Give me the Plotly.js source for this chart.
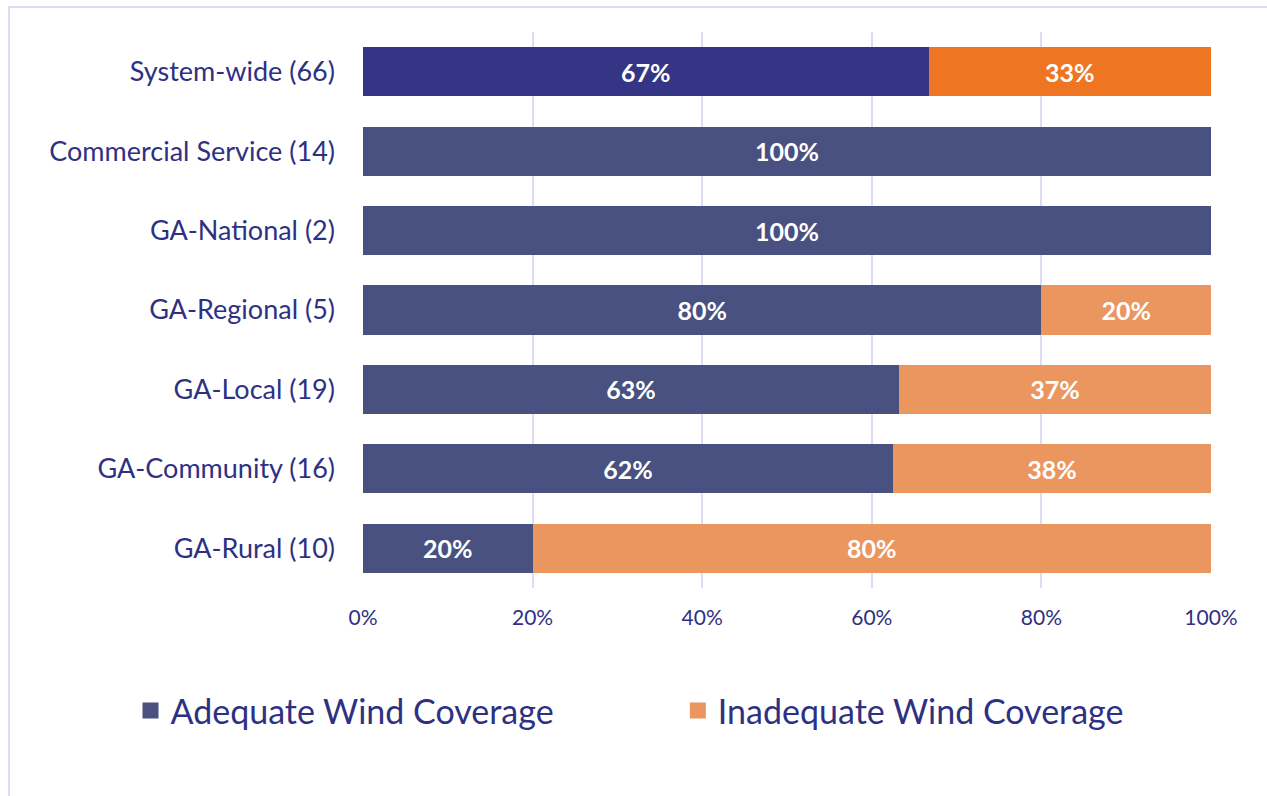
<!DOCTYPE html>
<html>
<head>
<meta charset="utf-8">
<script src="https://cdn.plot.ly/plotly-3.0.1.min.js"></script>
<style>
  html, body { margin: 0; padding: 0; background: #ffffff; }
  #frame { position: absolute; left: 8px; top: 6px; width: 1400px; height: 1000px; border: 2px solid #dcdcf2; box-sizing: border-box; }
  #chart { position: absolute; left: 0; top: 0; width: 1267px; height: 796px; }
</style>
</head>
<body>
<div id="frame"></div>
<div id="chart"></div>
<script>
// Categories (top to bottom)
const categories = ["System-wide (66)", "Commercial Service (14)", "GA-National (2)", "GA-Regional (5)", "GA-Local (19)", "GA-Community (16)", "GA-Rural (10)"];
// Shares (percent)
const adequate = [66.7, 100, 100, 80, 63.2, 62.5, 20];
const inadequate = [33.3, 0, 0, 20, 36.8, 37.5, 80];
// Labels shown in bars
const adequateLabels = ["67%", "100%", "100%", "80%", "63%", "62%", "20%"];
const inadequateLabels = ["33%", "", "", "20%", "37%", "38%", "80%"];
// Tick labels
const tickValues = [0, 20, 40, 60, 80, 100];
const tickLabels = ["0%", "20%", "40%", "60%", "80%", "100%"];
// Series names
const seriesNames = ["Adequate Wind Coverage", "Inadequate Wind Coverage"];

const adequateColors = categories.map((c, i) => i === 0 ? "#343584" : "#48517f");
const inadequateColors = categories.map((c, i) => i === 0 ? "#ee7623" : "#ea965e");
const FONT = "Lato, 'Open Sans', sans-serif";
const TXT = "#2e3183";

const traces = [
  {
    type: "bar", orientation: "h", y: categories, x: adequate,
    marker: { color: adequateColors }, text: adequateLabels,
    textposition: "inside", insidetextanchor: "middle", textangle: 0,
    textfont: { family: FONT, size: 25, color: "#ffffff", weight: "bold" },
    hoverinfo: "skip", showlegend: false
  },
  {
    type: "bar", orientation: "h", y: categories, x: inadequate,
    marker: { color: inadequateColors }, text: inadequateLabels,
    textposition: "inside", insidetextanchor: "middle", textangle: 0,
    textfont: { family: FONT, size: 25, color: "#ffffff", weight: "bold" },
    hoverinfo: "skip", showlegend: false
  },
  {
    type: "scatter", mode: "markers", x: [null], y: [null], name: seriesNames[0],
    marker: { symbol: "square", size: 18, color: "#48517f" }, hoverinfo: "skip",
    legend: "legend"
  },
  {
    type: "scatter", mode: "markers", x: [null], y: [null], name: seriesNames[1],
    marker: { symbol: "square", size: 18, color: "#ea965e" }, hoverinfo: "skip",
    legend: "legend2"
  }
];

const legendCommon = {
  orientation: "h", xref: "container", yref: "container",
  xanchor: "left", y: 0.107, yanchor: "middle",
  font: { family: FONT, size: 34, color: TXT },
  bgcolor: "rgba(0,0,0,0)", itemclick: false, itemdoubleclick: false
};

const layout = {
  width: 1267, height: 796,
  margin: { l: 363, r: 56, t: 32, b: 208 },
  paper_bgcolor: "rgba(0,0,0,0)", plot_bgcolor: "rgba(0,0,0,0)",
  barmode: "stack", bargap: 0.38,
  font: { family: FONT, color: TXT },
  xaxis: {
    range: [0, 100], tickvals: tickValues, ticktext: tickLabels,
    showgrid: true, gridcolor: "#dcdcf2", gridwidth: 2,
    zeroline: false, showline: false, ticks: "",
    tickfont: { family: FONT, size: 21, color: TXT },
    ticklabelstandoff: 15, fixedrange: true
  },
  yaxis: {
    type: "category", autorange: "reversed", categoryorder: "array", categoryarray: categories,
    showgrid: false, zeroline: false, showline: false, ticks: "",
    tickfont: { family: FONT, size: 27, color: TXT },
    ticklabelstandoff: 27, fixedrange: true
  },
  showlegend: true,
  legend: Object.assign({}, legendCommon, { x: 0.103 }),
  legend2: Object.assign({}, legendCommon, { x: 0.535 })
};

Plotly.newPlot("chart", traces, layout, { displayModeBar: false, staticPlot: true });
</script>
</body>
</html>
